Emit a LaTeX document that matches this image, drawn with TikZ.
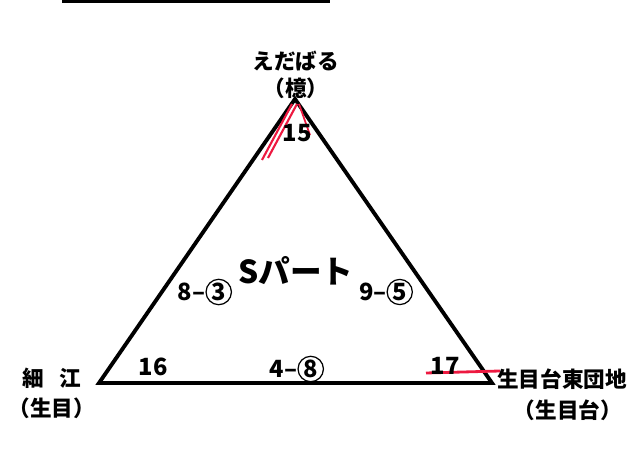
\documentclass[tikz,border=0pt]{standalone}
\usepackage{fontspec}
\newfontfamily\jp{Noto Sans CJK JP}
\definecolor{pen}{rgb}{0.93, 0.1, 0.25}
\newcommand{\ringnum}[1]{\tikz[baseline=(c.base)]\node[circle, draw, line width=0.7pt, inner sep=0.5pt, minimum size=12.5pt] (c) {#1};}
\tikzset{
  lbl/.style={font=\jp\bfseries\fontsize{13.5}{15}\selectfont, inner sep=0pt},
  place/.style={font=\jp\bfseries\fontsize{12.3}{14}\selectfont, inner sep=0pt},
  title/.style={font=\jp\bfseries\fontsize{18}{20}\selectfont, inner sep=0pt}
}

\begin{document}
\begin{tikzpicture}[x=0.02cm, y=-0.02cm]
\useasboundingbox (0, 0) rectangle (637, 452);
\coordinate (top) at (295, 99);
\coordinate (left) at (99, 383);
\coordinate (right) at (492, 383);
\draw[line width=2.2pt] (62, 1) -- (330, 1);
% triangle
\draw[line width=2.2pt, line join=miter] (top) -- (left) -- (right) -- cycle;
% red marks
\draw[pen, line width=1.2pt] (292, 104) -- (262, 160) (297, 104) -- (268, 158);
\draw[pen, line width=1pt] (299, 104) -- (310, 135);
\draw[pen, line width=1.6pt] (426, 373) -- (500, 371);
% stops
\node[place] (eda) at (296, 61) {えだばる};
\node[place] (edasub) at (296, 88) {（檍）};
\node[place] (hoso) at (52, 378) {細\hspace{0.7em}江};
\node[place] (hososub) at (52, 408) {（生目）};
\node[place, anchor=west] (ikime) at (497, 379) {生目台東団地};
\node[place] (ikimesub) at (568, 410) {（生目台）};
% counts
\node[lbl] (n15) at (297, 133) {15};
\node[lbl] (n16) at (153, 367) {16};
\node[lbl] (n17) at (445, 366) {17};
\node[lbl] (n83) at (205, 292) {8–\ringnum{3}};
\node[lbl] (n95) at (386, 292) {9–\ringnum{5}};
\node[lbl] (n48) at (297, 369) {4–\ringnum{8}};
\node[title] (part) at (296, 271) {Sパート};
\end{tikzpicture}
\end{document}
